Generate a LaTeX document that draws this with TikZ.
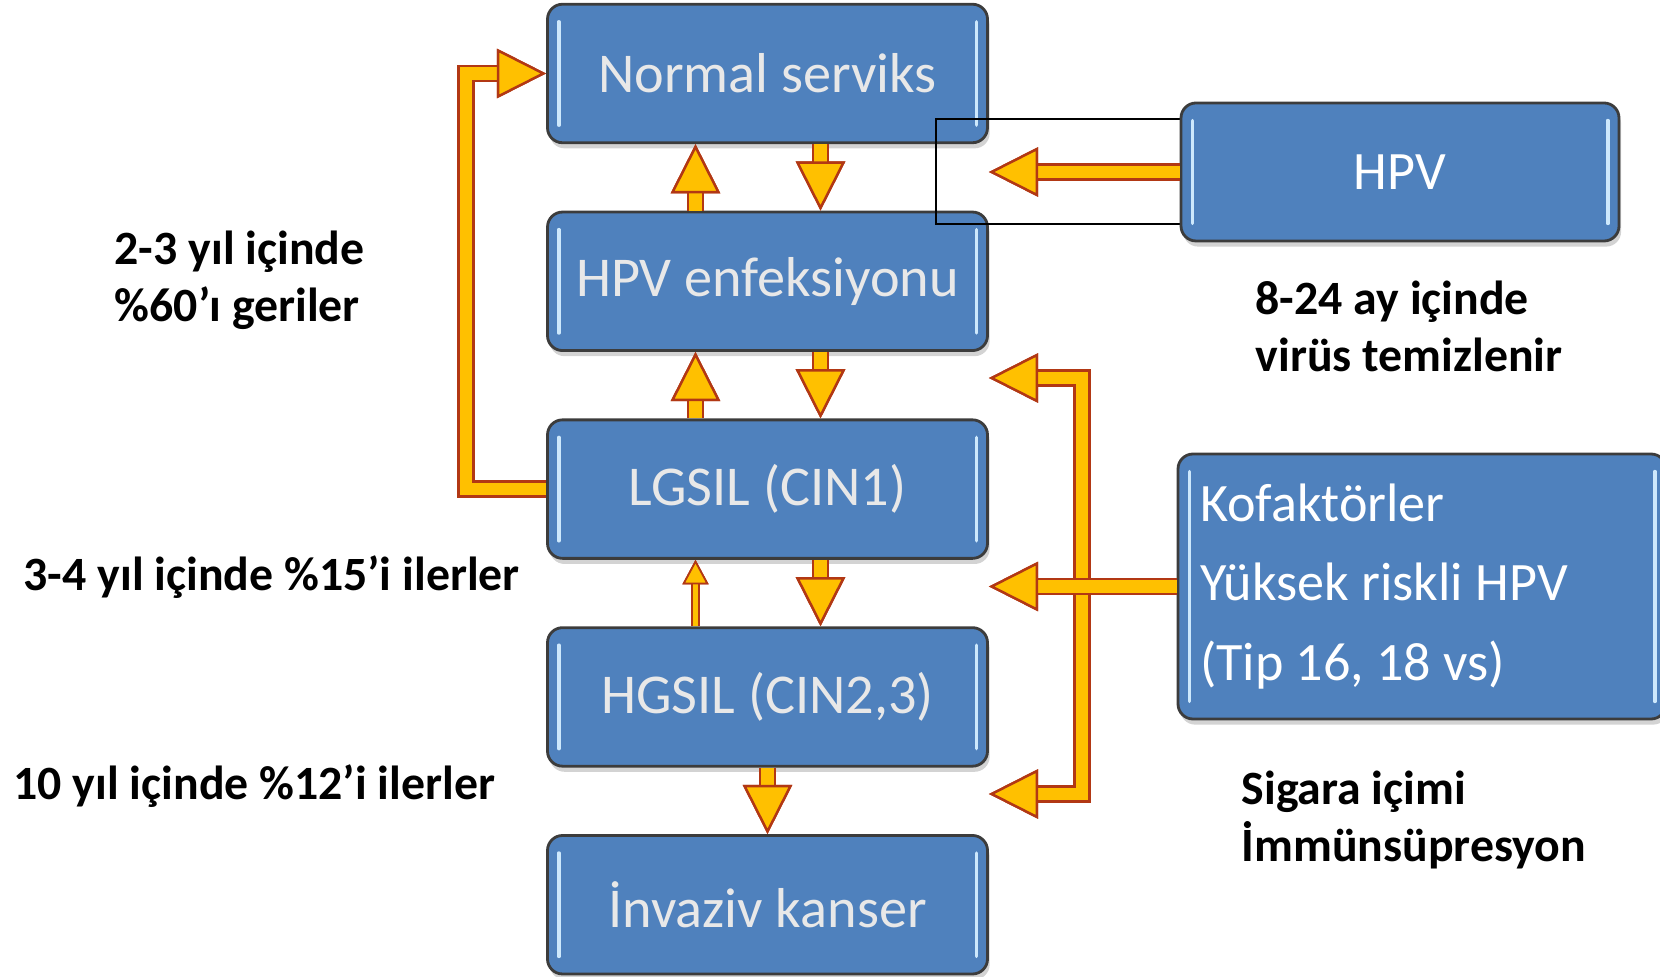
\documentclass[tikz,border=0pt]{standalone}
\usepackage{fontspec}
\setmainfont{Carlito}
\usetikzlibrary{positioning,arrows.meta,shadows}
\definecolor{boxblue}{RGB}{79,129,189}
\definecolor{boxedge}{RGB}{60,60,60}
\definecolor{boxshine}{RGB}{205,232,252}
\definecolor{arrowgold}{RGB}{255,192,0}
\definecolor{arrowedge}{RGB}{178,56,20}
\tikzset{goldtip/.tip={Triangle[width=14pt,length=14pt,line width=0.7pt,color=arrowedge,fill=arrowgold]},
  thintip/.tip={Triangle[width=7.4pt,length=7pt,line width=0.5pt,color=arrowedge,fill=arrowgold]}}
\begin{document}
\begin{tikzpicture}[x=1cm,y=-1cm,>=goldtip,node distance=0.665cm,
    stage/.style={rounded corners=0.15cm, fill=boxblue, draw=boxedge, line width=0.8pt,
        minimum width=4.40cm, minimum height=1.385cm, inner sep=0pt,
        text=white!91!black, font=\fontsize{16pt}{19pt}\selectfont,
        drop shadow={shadow xshift=0.6pt, shadow yshift=-1.6pt, opacity=0.35},
        path picture={\draw[boxshine, line width=1pt, line cap=round]
            ([xshift=3.2pt,yshift=-5pt]path picture bounding box.north west) -- ([xshift=3.2pt,yshift=5pt]path picture bounding box.south west)
            ([xshift=-3.2pt,yshift=-5pt]path picture bounding box.north east) -- ([xshift=-3.2pt,yshift=5pt]path picture bounding box.south east);}},
    factor/.style={stage, text=white, font=\fontsize{15.4pt}{22.7pt}\selectfont},
    goldarrow/.style={draw=arrowgold, line width=3.6pt, line join=miter,
        preaction={draw=arrowedge, line width=4.9pt}},
    thinarrow/.style={draw=arrowgold, line width=1.7pt, >=thintip,
        preaction={draw=arrowedge, line width=2.7pt}},
    note/.style={font=\bfseries\fontsize{13.6pt}{16.2pt}\selectfont, align=left, inner sep=0pt, anchor=west}]

        \useasboundingbox (0,0) rectangle (16.6,9.77);
        \clip (0,0) rectangle (16.6,9.77);

        % stages of the cervix
        \node [stage] at (7.675,0.735) (normal) {Normal serviks};
        \node [stage, below=of normal] (hpvinf) {HPV enfeksiyonu};
        \node [stage, below=of hpvinf] (lgsil) {LGSIL (CIN1)};
        \node [stage, below=of lgsil] (hgsil) {HGSIL (CIN2,3)};
        \node [stage, below=of hgsil] (invaziv) {İnvaziv kanser};

        \draw [->, goldarrow] ([xshift=-0.72cm]hpvinf.north) -- ([xshift=-0.72cm]normal.south);
        \draw [->, goldarrow] ([xshift=0.53cm]normal.south) -- ([xshift=0.53cm]hpvinf.north);
        \draw [->, goldarrow] ([xshift=-0.72cm]lgsil.north) -- ([xshift=-0.72cm]hpvinf.south);
        \draw [->, goldarrow] ([xshift=0.53cm]hpvinf.south) -- ([xshift=0.53cm]lgsil.north);
        \draw [->, thinarrow] ([xshift=-0.72cm]hgsil.north) -- ([xshift=-0.72cm]lgsil.south);
        \draw [->, goldarrow] ([xshift=0.53cm]lgsil.south) -- ([xshift=0.53cm]hgsil.north);
        \draw [->, goldarrow] (hgsil.south) -- (invaziv.north);

        \draw [->, goldarrow] (lgsil.west) -- ++(-0.8,0) |- (normal.west);

        % causes
        \draw [thin] (9.36,1.19) rectangle (11.85,2.24);
        \node [factor, minimum width=4.38cm, minimum height=1.38cm] at (14.00,1.72) (hpv) {HPV};
        \node [factor, minimum width=4.88cm, minimum height=2.65cm, text width=4.44cm, inner xsep=0.22cm, align=left]
            at (14.22,5.865) (kof) {\spaceskip=0pt\xspaceskip=0pt\relax Kofaktörler\\Yüksek riskli HPV\\(Tip 16, 18 vs)};

        \draw [->, goldarrow] (hpv.west) -- (hpv.west -| normal.east);

        \coordinate (brtop) at (10.82,3.78);
        \coordinate (brbot) at (10.82,7.94);
        \draw [<->, goldarrow] (brtop -| hpvinf.east) -- (brtop) -- (brbot) -- (brbot -| hgsil.east);
        \draw [->, goldarrow] (kof.west) -- (kof.west -| lgsil.east);

        % rates
        \node [note] at (1.14,2.805) (regress) {2-3 yıl içinde\\\%60’ı geriler};
        \node [note] at (0.23,5.77) (progress) {3-4 yıl içinde \%15’i ilerler};
        \node [note] at (0.13,7.86) (cancer) {10 yıl içinde \%12’i ilerler};
        \node [note] at (12.55,3.26) (clearance) {8-24 ay içinde\\virüs temizlenir};
        \node [note] at (12.41,8.20) (risks) {Sigara içimi\\İmmünsüpresyon};

\end{tikzpicture}
\end{document}
